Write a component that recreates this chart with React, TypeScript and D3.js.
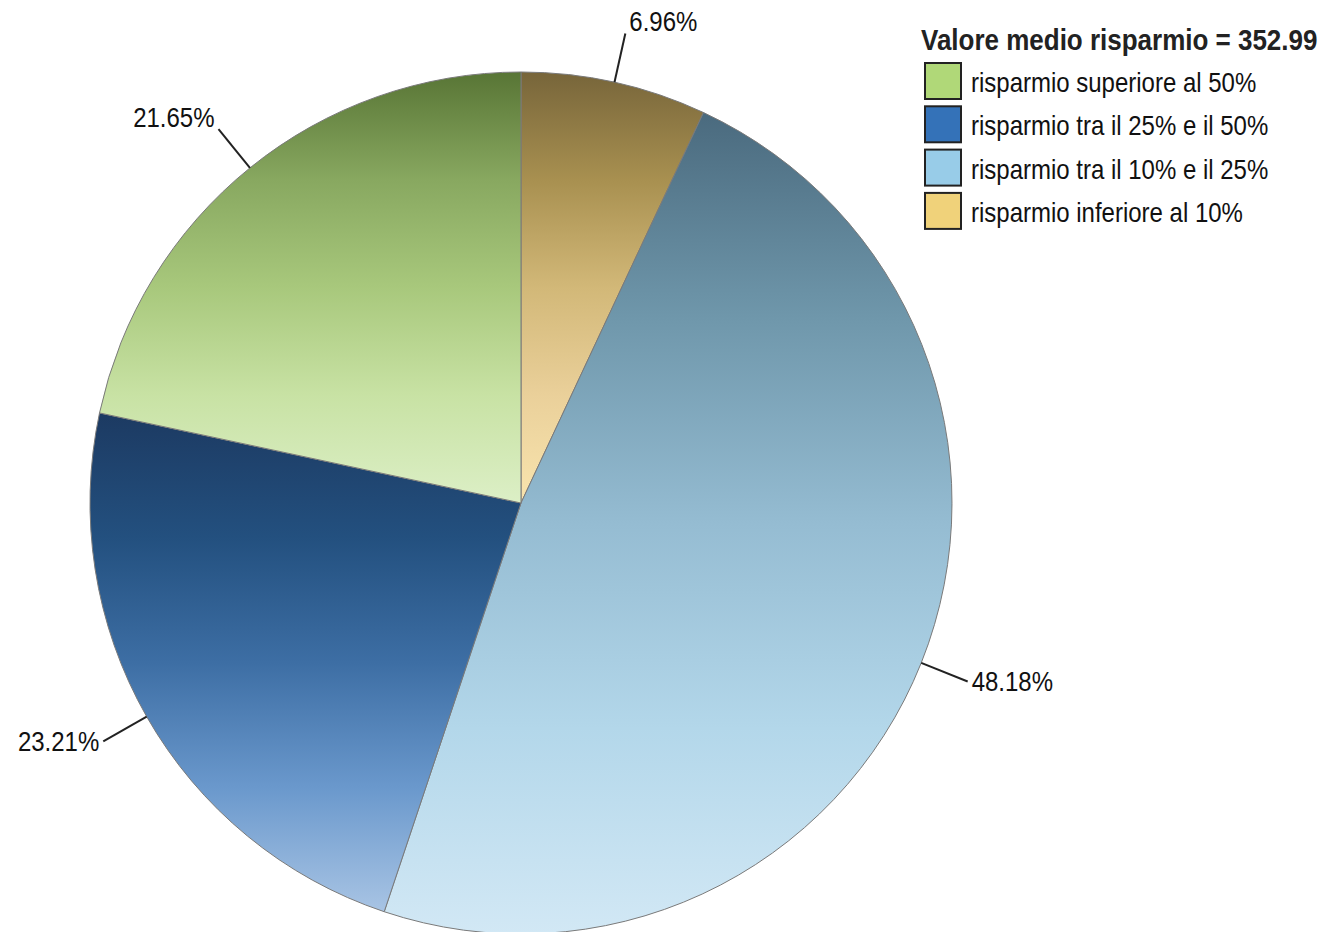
import React from "react";
import * as d3 from "d3";

// Legend order
const categories = [
  "risparmio superiore al 50%",
  "risparmio tra il 25% e il 50%",
  "risparmio tra il 10% e il 25%",
  "risparmio inferiore al 10%",
];
const values = [21.65, 23.21, 48.18, 6.96];
const labels = ["21.65%", "23.21%", "48.18%", "6.96%"];
const legendColors = ["#b0d878", "#3472b8", "#98cce8", "#f0d27a"];
const gradientStops: string[][] = [
  ["#587535", "#88a860", "#a8c87c", "#c8e2a4", "#dcefc6"],
  ["#1c3a62", "#23507f", "#3d6ea4", "#6a98cc", "#a8c4e4"],
  ["#4a6a7e", "#6f97ab", "#95bcd2", "#b3d7ea", "#d2e8f5"],
  ["#77653a", "#a89050", "#d2b878", "#ead09a", "#f8e4ae"],
];
const title = "Valore medio risparmio = 352.99";

const W = 1327;
const H = 932;
const cx = 521;
const cy = 503;
const R = 431;
const SY = 1.14; // vertical stretch of the text glyphs

export default function App() {
  // Drawn clockwise from 12 o'clock in reverse legend order
  const order = d3.range(values.length).reverse();
  const pie = d3
    .pie<number>()
    .sort(null)
    .value((i) => values[i])
    .startAngle(0)
    .endAngle(2 * Math.PI);
  const arcs = pie(order);
  const arc = d3.arc<d3.PieArcDatum<number>>().innerRadius(0).outerRadius(R);

  const stopOffsets = d3.range(5).map((i) => i / 4);

  return (
    <svg
      width={W}
      height={H}
      style={{ position: "absolute", left: 0, top: 0, background: "#fff" }}
      fontFamily="'Liberation Sans', Arial, sans-serif"
    >
      <defs>
        {categories.map((_, i) => (
          <linearGradient key={i} id={`g${i}`} x1="0" y1="0" x2="0" y2="1">
            {gradientStops[i].map((c, j) => (
              <stop key={j} offset={stopOffsets[j]} stopColor={c} />
            ))}
          </linearGradient>
        ))}
      </defs>
      <g transform={`translate(${cx},${cy})`}>
        {arcs.map((a) => (
          <path
            key={a.data}
            d={arc(a) || ""}
            fill={`url(#g${a.data})`}
            stroke="#7a7a7a"
            strokeWidth={1}
          />
        ))}
        {arcs.map((a) => {
          const mid = (a.startAngle + a.endAngle) / 2;
          const sx = Math.sin(mid);
          const cyy = -Math.cos(mid);
          const x1 = sx * R;
          const y1 = cyy * R;
          const x2 = sx * (R + 50);
          const y2 = cyy * (R + 50);
          const right = sx > 0;
          const upper = cyy < 0;
          const tx = x2 + (right ? 4 : -4);
          const ty = upper ? y2 - 2 : y2 + 10;
          return (
            <g key={`l${a.data}`}>
              <line x1={x1} y1={y1} x2={x2} y2={y2} stroke="#222" strokeWidth={2} />
              <text
                transform={`translate(${tx},${ty}) scale(1,${SY})`}
                textAnchor={right ? "start" : "end"}
                fontSize={24}
                fill="#111"
              >
                {labels[a.data]}
              </text>
            </g>
          );
        })}
      </g>
      <g>
        <text
          transform={`translate(921,50) scale(1,${SY})`}
          fontSize={26}
          fontWeight="bold"
          fill="#222"
        >
          {title}
        </text>
        {categories.map((c, i) => (
          <g key={c} transform={`translate(924,${62 + i * 43.3})`}>
            <rect x={1} y={1} width={36} height={36} fill={legendColors[i]} stroke="#222" strokeWidth={2} />
            <text transform={`translate(47,30) scale(1,${SY})`} fontSize={24} fill="#111">
              {c}
            </text>
          </g>
        ))}
      </g>
    </svg>
  );
}
